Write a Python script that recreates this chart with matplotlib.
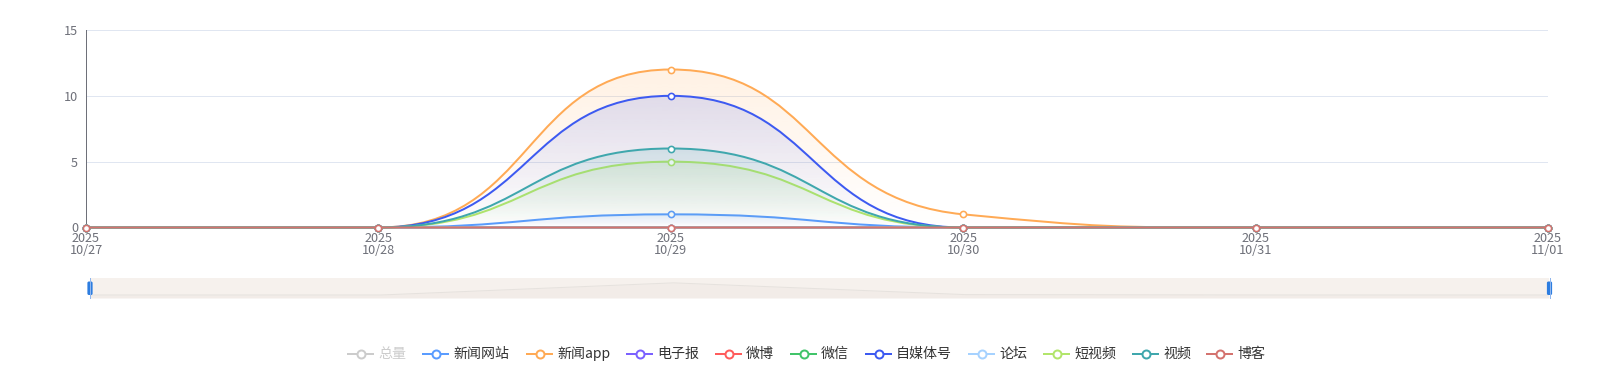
import math
import numpy as np
import matplotlib
matplotlib.use('Agg')
import matplotlib.pyplot as plt
from matplotlib.path import Path
from matplotlib.patches import PathPatch, FancyBboxPatch
from matplotlib.lines import Line2D
from matplotlib.colors import to_rgb

plt.rcParams['font.family'] = ['Noto Sans CJK SC', 'DejaVu Sans']

# ---------------- data ----------------
dates = ['2025\n10/27', '2025\n10/28', '2025\n10/29', '2025\n10/30', '2025\n10/31', '2025\n11/01']
names = ['总量', '新闻网站', '新闻app', '电子报', '微博', '微信', '自媒体号', '论坛', '短视频', '视频', '博客']
total = [0, 0, 34, 1, 0, 0]
news_site = [0, 0, 1, 0, 0, 0]
news_app = [0, 0, 12, 1, 0, 0]
epaper = [0, 0, 0, 0, 0, 0]
weibo = [0, 0, 0, 0, 0, 0]
weixin = [0, 0, 0, 0, 0, 0]
self_media = [0, 0, 10, 0, 0, 0]
forum = [0, 0, 0, 0, 0, 0]
short_video = [0, 0, 5, 0, 0, 0]
video = [0, 0, 6, 0, 0, 0]
blog = [0, 0, 0, 0, 0, 0]
values = [total, news_site, news_app, epaper, weibo, weixin, self_media, forum, short_video, video, blog]
colors = ['#cccccc', '#5A9CFF', '#FFAA55', '#7B61FF', '#FF5C5C', '#41C46A',
          '#3D5AF1', '#A6D2FF', '#B2E56B', '#3FA7AD', '#D4736F']
shown = [False] + [True] * 10
y_ticks = [0, 5, 10, 15]

# ---------------- layout ----------------
W, H = 1613, 382
fig = plt.figure(figsize=(W / 100, H / 100), dpi=100)
PX = 0.72  # points per pixel

ax_l, ax_r, ax_t, ax_b = 86, 1548, 30, 227.5
ax = fig.add_axes([ax_l / W, 1 - ax_b / H, (ax_r - ax_l) / W, (ax_b - ax_t) / H])
ax.set_xlim(0, len(dates) - 1)
ax.set_ylim(0, 15)
sx = (ax_r - ax_l) / (len(dates) - 1)
sy = (ax_b - ax_t) / 15.0


def echarts_smooth(xs, ys, smooth=0.5):
    px = [x * sx for x in xs]
    py = [y * sy for y in ys]
    n = len(px)
    verts = [(px[0], py[0])]
    codes = [Path.MOVETO]
    cpx0, cpy0 = px[0], py[0]
    for i in range(1, n):
        x, y = px[i], py[i]
        prevX, prevY = px[i - 1], py[i - 1]
        if i == n - 1:
            cpx1, cpy1 = x, y
            ncx, ncy = x, y
        else:
            nextX, nextY = px[i + 1], py[i + 1]
            vx = nextX - prevX
            vy = nextY - prevY
            lp = math.hypot(x - prevX, y - prevY)
            ln = math.hypot(nextX - x, nextY - y)
            r = ln / (ln + lp)
            ncx = x + vx * smooth * r
            ncy = y + vy * smooth * r
            ncx = min(ncx, max(nextX, x)); ncy = min(ncy, max(nextY, y))
            ncx = max(ncx, min(nextX, x)); ncy = max(ncy, min(nextY, y))
            vx = ncx - x; vy = ncy - y
            cpx1 = x - vx * lp / ln; cpy1 = y - vy * lp / ln
            cpx1 = min(cpx1, max(prevX, x)); cpy1 = min(cpy1, max(prevY, y))
            cpx1 = max(cpx1, min(prevX, x)); cpy1 = max(cpy1, min(prevY, y))
            vx = x - cpx1; vy = y - cpy1
            ncx = x + vx * ln / lp; ncy = y + vy * ln / lp
        verts += [(cpx0, cpy0), (cpx1, cpy1), (x, y)]
        codes += [Path.CURVE4] * 3
        cpx0, cpy0 = ncx, ncy
    verts = [(a / sx, b / sy) for a, b in verts]
    return verts, codes


xs = list(range(len(dates)))
for k, (vals, col, on) in enumerate(zip(values, colors, shown)):
    if not on:
        continue
    z = 2 + k * 0.1
    verts, codes = echarts_smooth(xs, vals)
    vmax = max(vals)
    if vmax > 0:
        av = verts + [(xs[-1], 0), (xs[0], 0), (xs[0], 0)]
        ac = codes + [Path.LINETO, Path.LINETO, Path.CLOSEPOLY]
        patch = PathPatch(Path(av, ac), facecolor='none', edgecolor='none', zorder=z)
        ax.add_patch(patch)
        rgb = to_rgb(col)
        grad = np.zeros((256, 1, 4))
        grad[:, 0, 0:3] = rgb
        grad[:, 0, 3] = np.linspace(0.0, 0.16, 256)
        im = ax.imshow(grad, extent=(xs[0], xs[-1], 0, vmax), origin='lower',
                       aspect='auto', interpolation='bilinear', zorder=z)
        im.set_clip_path(patch)
    lp = PathPatch(Path(verts, codes), facecolor='none', edgecolor=col,
                   lw=2 * PX, zorder=z + 0.01, clip_on=False, capstyle='round', joinstyle='round')
    ax.add_patch(lp)
    ax.plot(xs, vals, linestyle='none', marker='o', markersize=6.2 * PX,
            markerfacecolor='white', markeredgecolor=col, markeredgewidth=1.6 * PX,
            zorder=z + 0.02, clip_on=False)

ax.set_xticks(xs)
ax.set_xticklabels(dates, fontsize=12.7 * PX, color='#6E7079', linespacing=0.9)
ax.set_yticks(y_ticks)
ax.set_yticklabels([str(t) for t in y_ticks], fontsize=12.7 * PX, color='#6E7079')
ax.tick_params(axis='both', length=0)
ax.tick_params(axis='x', pad=5 * PX)
ax.tick_params(axis='y', pad=8 * PX)
for s in ['top', 'right', 'bottom']:
    ax.spines[s].set_visible(False)
ax.spines['left'].set_color('#6E7079')
ax.spines['left'].set_linewidth(1 * PX)
ax.set_axisbelow(True)
ax.yaxis.grid(True, color='#E0E6F1', lw=1 * PX)
ax.xaxis.grid(False)

# ---------------- data zoom slider ----------------
sl_l, sl_r, sl_t, sl_b = 90, 1549, 278, 298
sax = fig.add_axes([sl_l / W, 1 - sl_b / H, (sl_r - sl_l) / W, (sl_b - sl_t) / H])
sax.set_xlim(0, len(dates) - 1)
sax.set_ylim(-0.25, 1.4)
sax.set_facecolor('#F6F1ED')
for s in sax.spines.values():
    s.set_visible(False)
sax.set_xticks([]); sax.set_yticks([])
tmax = max(total)
shadow = [v / tmax for v in total]
sax.fill_between(xs, shadow, -0.25, color='#F2ECE8', lw=0)
sax.plot(xs, shadow, color='#E6E2DE', lw=1 * PX)

# overlay in pixel coordinates
ov = fig.add_axes([0, 0, 1, 1])
ov.set_xlim(0, W); ov.set_ylim(H, 0)
ov.axis('off')
ov.patch.set_alpha(0)
for hx in (90, 1549.5):
    ov.add_line(Line2D([hx, hx], [278, 298], color='#8FB6EE', lw=1 * PX))
    ov.add_patch(FancyBboxPatch((hx - 2.6, 281.5), 5.2, 13.5,
                                boxstyle='round,pad=0,rounding_size=1.5',
                                facecolor='#2D7DE0', edgecolor='none'))

# ---------------- legend ----------------
leg_x = [348, 423, 527, 627, 716, 791, 866, 969, 1044, 1133, 1207]
leg_y = 354
for k, (name, col, on, lx) in enumerate(zip(names, colors, shown, leg_x)):
    c = col if on else '#cccccc'
    ov.add_line(Line2D([lx, lx + 25], [leg_y, leg_y], color=c, lw=2 * PX))
    ov.add_line(Line2D([lx + 12.5], [leg_y], marker='o', markersize=8 * PX,
                       markerfacecolor='white', markeredgecolor=c, markeredgewidth=2 * PX))
    ov.text(lx + 30, leg_y, name, fontsize=14 * PX, color='#333333' if on else '#cccccc',
            va='center', ha='left')

fig.savefig('out.png', dpi=100)
